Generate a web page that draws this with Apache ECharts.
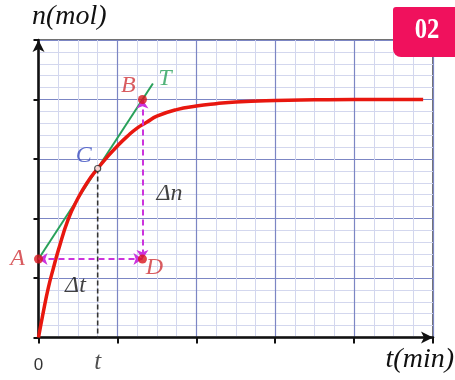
<!DOCTYPE html>
<html><head><meta charset="utf-8">
<script src="https://cdn.jsdelivr.net/npm/echarts@6/dist/echarts.min.js"></script>
<style>html,body{margin:0;padding:0;background:#fff}#c{width:455px;height:380px}</style>
</head><body><div id="c"></div>
<script>
// red curve n(t) (t in minor x-divisions, n in minor y-divisions)
const curveT = [0, 0.25, 0.5, 0.75, 1, 1.5, 2, 2.5, 3, 3.5, 4, 4.5, 5, 5.5, 6, 7, 8, 9, 10, 12, 14, 16, 18, 19.5];
const curveN = [0, 2.2, 4.2, 5.8, 7.3, 9.9, 11.7, 13.1, 14.2, 15.2, 16.1, 16.9, 17.6, 18.1, 18.6, 19.15, 19.45, 19.65, 19.8, 19.92, 19.97, 20, 20, 20];
// tangent T through A, C and B
const tangentT = [0, 5.8];
const tangentN = [6.6, 21.35];
// named points
const pointNames = ['A', 'B', 'C', 'D'];
const pointT = [0, 5.27, 3, 5.27];
const pointN = [6.6, 20, 14.2, 6.6];
// dashed guide from C to the time axis
const guideT = [3, 3];
const guideN = [14.2, 0];
// tick labels
const xTickLabels = {0: '0'};
const tMarkLabel = 't';

const chart = echarts.init(document.getElementById('c'));
const serif = "'Liberation Serif', 'DejaVu Serif', serif";
const P = i => [pointT[i], pointN[i]];
const mid = (i, j) => [(pointT[i] + pointT[j]) / 2, (pointN[i] + pointN[j]) / 2];
const italic = (color, size) => ({fontFamily: serif, fontStyle: 'italic', fontSize: size || 24, color: color});

const option = {
  animation: false,
  backgroundColor: '#fff',
  grid: {left: 38.5, right: 22, top: 40, bottom: 42.5, show: true, borderColor: '#444', borderWidth: 1.5, backgroundColor: 'transparent'},
  xAxis: {
    type: 'value', min: 0, max: 20, interval: 4,
    axisLine: {show: true, onZero: false, lineStyle: {color: '#111', width: 2.5}, symbol: ['none', 'arrow'], symbolSize: [9, 12]},
    axisTick: {show: true, inside: false, length: 6, lineStyle: {color: '#111', width: 2}},
    axisLabel: {show: true, margin: 19, fontFamily: "'Liberation Sans', sans-serif", fontSize: 17, color: '#333',
      formatter: v => (xTickLabels[v] !== undefined ? xTickLabels[v] : '')},
    splitLine: {show: true, lineStyle: {color: '#7c86c4', width: 1.2}},
    minorTick: {show: false, splitNumber: 4},
    minorSplitLine: {show: true, lineStyle: {color: '#d3d7ee', width: 1}}
  },
  yAxis: {
    type: 'value', min: 0, max: 25, interval: 5,
    axisLine: {show: true, onZero: false, lineStyle: {color: '#111', width: 2.5}, symbol: ['none', 'arrow'], symbolSize: [9, 12]},
    axisTick: {show: true, inside: false, length: 5, lineStyle: {color: '#111', width: 2}},
    axisLabel: {show: false},
    splitLine: {show: true, lineStyle: {color: '#7c86c4', width: 1.2}},
    minorTick: {show: false, splitNumber: 5},
    minorSplitLine: {show: true, lineStyle: {color: '#d3d7ee', width: 1}}
  },
  series: [
    {type: 'line', data: guideT.map((t, i) => [t, guideN[i]]), showSymbol: false, silent: true,
      lineStyle: {color: '#333', width: 1.6, type: [5, 3]}, z: 3},
    {type: 'line', data: tangentT.map((t, i) => [t, tangentN[i]]), showSymbol: false, silent: true,
      lineStyle: {color: '#28a05a', width: 2}, z: 4},
    {type: 'line', data: curveT.map((t, i) => [t, curveN[i]]), smooth: true, showSymbol: false, silent: true,
      lineStyle: {color: '#e8170f', width: 3.5}, z: 5},
    {type: 'lines', coordinateSystem: 'cartesian2d', silent: true, z: 6,
      symbol: ['arrow', 'arrow'], symbolSize: 9,
      lineStyle: {color: '#cc33dd', width: 2, type: [6, 4], opacity: 1},
      data: [{coords: [P(1), P(3)]}, {coords: [P(0), P(3)]}]},
    {type: 'scatter', clip: false, silent: true, z: 8,
      data: [
        {value: P(0), symbolSize: 9, itemStyle: {color: '#d8141c'},
          label: {show: true, formatter: pointNames[0], position: 'left', distance: 9, ...italic('#cf3338')}},
        {value: P(1), symbolSize: 9, itemStyle: {color: '#d8141c'},
          label: {show: true, formatter: pointNames[1], position: 'inside', offset: [-14, -14], ...italic('#cf3338')}},
        {value: P(2), symbolSize: 6, itemStyle: {color: '#fff', borderColor: '#222', borderWidth: 1.2},
          label: {show: true, formatter: pointNames[2], position: 'inside', offset: [-14, -13], ...italic('#3c4fc0')}},
        {value: P(3), symbolSize: 9, itemStyle: {color: '#d8141c'},
          label: {show: true, formatter: pointNames[3], position: 'inside', offset: [12, 9], ...italic('#cf3338')}}
      ]},
    {type: 'scatter', clip: false, silent: true, z: 8, symbolSize: 0,
      data: [
        {value: [tangentT[1], tangentN[1]], label: {show: true, formatter: 'T', position: 'inside', offset: [12, -5], ...italic('#28a05a')}},
        {value: mid(1, 3), label: {show: true, formatter: 'Δn', position: 'inside', offset: [27, 14], ...italic('#111')}},
        {value: mid(0, 3), label: {show: true, formatter: 'Δt', position: 'inside', offset: [-15, 27], ...italic('#111')}},
        {value: [guideT[0], 0], label: {show: true, formatter: tMarkLabel, position: 'inside', offset: [0, 25], ...italic('#222', 25)}}
      ]}
  ],
  graphic: [
    {type: 'text', left: 32, top: 3, style: {text: 'n(mol)', font: "italic 28px 'Liberation Serif', serif", fill: '#111'}},
    {type: 'text', right: 1, top: 346, style: {text: 't(min)', font: "italic 28px 'Liberation Serif', serif", fill: '#111'}},
    {type: 'rect', left: 393, top: 7, shape: {width: 62, height: 50, r: [3, 0, 0, 8]}, style: {fill: '#f0115d'}, z: 10},
    {type: 'text', x: 427, y: 31, scaleX: 0.85, z: 11,
      style: {x: 0, y: 0, text: '02', align: 'center', verticalAlign: 'middle', font: "bold 29px 'Liberation Serif', serif", fill: '#fff'}}
  ]
};
chart.setOption(option);
</script></body></html>
